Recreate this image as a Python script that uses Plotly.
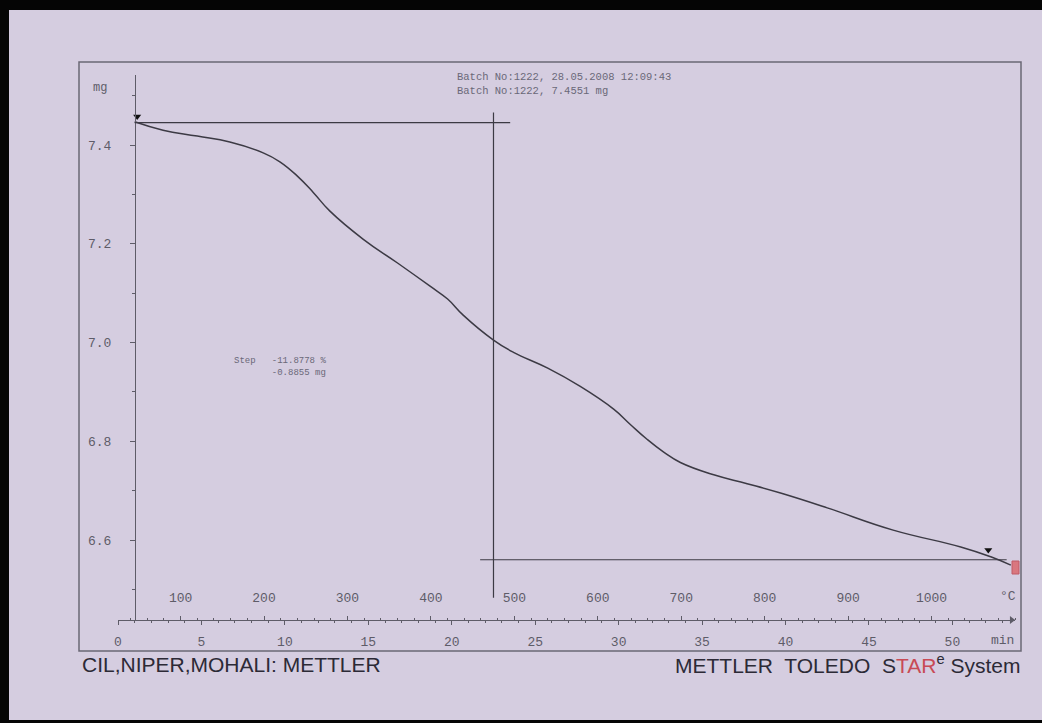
import numpy as np
import plotly.graph_objects as go

# ---- TGA measurement (sample mass vs furnace temperature) ----
temp_c = [45, 79, 120, 159, 199, 219, 240, 259, 279, 319, 360, 399, 420, 439, 475,
          499, 540, 579, 619, 639, 659, 679, 699, 739, 779, 819, 875, 954, 1035,
          1071, 1095]
mass_mg = [7.447, 7.430, 7.418, 7.406, 7.384, 7.366, 7.337, 7.304, 7.266, 7.209,
           7.161, 7.114, 7.088, 7.055, 7.005, 6.980, 6.948, 6.911, 6.865, 6.834,
           6.804, 6.778, 6.757, 6.732, 6.714, 6.695, 6.665, 6.620, 6.586, 6.566,
           6.549]

# heating programme: 25 °C start, 20 K/min
start_temp_c = 25
heating_rate = 20
end_temp_c = 1100

# step evaluation
sample_mass_mg = 7.4551
step_start_level = 7.4455
step_end_level = 6.5600
step_limits_c = [48, 1068]
step_mid_c = 475

temp_ticks = [100, 200, 300, 400, 500, 600, 700, 800, 900, 1000]
time_ticks = [0, 5, 10, 15, 20, 25, 30, 35, 40, 45, 50]
mass_ticks = [6.6, 6.8, 7.0, 7.2, 7.4]

# ---- page geometry (pixels) ----
W, H = 1042, 723
L, R, T, B = 79, 1021, 62, 651           # printed frame
PW, PH = R - L, B - T


def px(xpix):
    return (xpix - L) / PW


def py(ypix):
    return (B - ypix) / PH


ruler_y = 620
ruler_x0, ruler_x1 = 118, 1015
yaxis_x = 135
yaxis_top = 75

ink = "#3c3a44"
grey = "#5e5c68"
bg = "#d5cde0"
mono = "Liberation Mono, DejaVu Sans Mono, monospace"
sans = "Liberation Sans, Arial, sans-serif"

step_mg = step_start_level - step_end_level
step_pct = step_mg / sample_mass_mg * 100
time_max = (end_temp_c - start_temp_c) / heating_rate
y_lo = 7.4 - (ruler_y - 145) / 493.75
y_hi = 7.4 + (145 - yaxis_top) / 493.75

fig = go.Figure()

# mass curve
fig.add_trace(go.Scatter(
    x=temp_c, y=mass_mg, mode="lines",
    line=dict(color=ink, width=1.5, shape="spline", smoothing=1.3),
    hoverinfo="skip", showlegend=False, xaxis="x", yaxis="y"))

# step limit markers on the curve
lim_mass = [float(np.interp(t, temp_c, mass_mg)) + 0.012 for t in step_limits_c]
fig.add_trace(go.Scatter(
    x=step_limits_c, y=lim_mass, mode="markers",
    marker=dict(symbol="triangle-down", size=7, color="#111"),
    hoverinfo="skip", showlegend=False, xaxis="x", yaxis="y", cliponaxis=False))

# arrow head at the end of the temperature ruler
fig.add_trace(go.Scatter(
    x=[end_temp_c - 4], y=[y_lo], mode="markers",
    marker=dict(symbol="triangle-right", size=7, color=grey),
    hoverinfo="skip", showlegend=False, xaxis="x", yaxis="y", cliponaxis=False))

# dummy trace so the time axis is rendered
fig.add_trace(go.Scatter(
    x=[0, time_max], y=[None, None],
    mode="lines", showlegend=False, hoverinfo="skip", xaxis="x2", yaxis="y"))

fig.update_layout(
    width=W, height=H,
    margin=dict(l=L, r=W - R, t=T, b=H - B, pad=0),
    paper_bgcolor=bg, plot_bgcolor="rgba(0,0,0,0)",
    showlegend=False,
    xaxis=dict(
        domain=[px(ruler_x0), px(ruler_x1)], range=[start_temp_c, end_temp_c],
        anchor="free", position=py(ruler_y), side="top",
        showline=True, linecolor=grey, linewidth=1.2,
        ticks="outside", ticklen=4, tickcolor=grey, tickwidth=1,
        tickvals=temp_ticks, ticklabelstandoff=9,
        tickfont=dict(family=mono, size=13, color=grey),
        minor=dict(dtick=20, tick0=0, ticks="outside", ticklen=2, tickcolor=grey),
        showgrid=False, zeroline=False, fixedrange=True),
    xaxis2=dict(
        domain=[px(ruler_x0), px(ruler_x1)], range=[0, time_max],
        overlaying="x", anchor="free", position=py(ruler_y), side="bottom",
        showline=False, ticks="outside", ticklen=4, tickcolor=grey, tickwidth=1,
        tickvals=time_ticks, ticklabelstandoff=5,
        tickfont=dict(family=mono, size=13, color=grey),
        minor=dict(dtick=1, tick0=0, ticks="outside", ticklen=2, tickcolor=grey),
        showgrid=False, zeroline=False, fixedrange=True),
    yaxis=dict(
        domain=[py(ruler_y), py(yaxis_top)], range=[y_lo, y_hi],
        anchor="free", position=px(yaxis_x), side="left",
        showline=True, linecolor=grey, linewidth=1.2,
        ticks="outside", ticklen=5, tickcolor=grey,
        tickvals=mass_ticks, ticktext=[f"{v:.1f}" for v in mass_ticks],
        ticklabelstandoff=16,
        tickfont=dict(family=mono, size=13, color=grey),
        minor=dict(dtick=0.1, tick0=6.5, ticks="outside", ticklen=3, tickcolor=grey),
        showgrid=False, zeroline=False, fixedrange=True),
)

shapes = []
# black edge of the photographed sheet
shapes.append(dict(type="rect", xref="paper", yref="paper",
                   x0=px(0), x1=px(W), y0=py(0), y1=py(10),
                   fillcolor="#050505", line=dict(width=0), layer="above"))
shapes.append(dict(type="rect", xref="paper", yref="paper",
                   x0=px(0), x1=px(9), y0=py(0), y1=py(H),
                   fillcolor="#050505", line=dict(width=0), layer="above"))
shapes.append(dict(type="rect", xref="paper", yref="paper",
                   x0=px(0), x1=px(W), y0=py(720), y1=py(H),
                   fillcolor="#050505", line=dict(width=0), layer="above"))
# printed frame
shapes.append(dict(type="rect", xref="paper", yref="paper",
                   x0=0, x1=1, y0=0, y1=1,
                   line=dict(color="#6a6874", width=1.5)))
# step baselines and midpoint
shapes.append(dict(type="line", xref="x", yref="y",
                   x0=step_limits_c[0] - 3, x1=495,
                   y0=step_start_level, y1=step_start_level,
                   line=dict(color=ink, width=1.2)))
shapes.append(dict(type="line", xref="x", yref="y",
                   x0=459, x1=1090,
                   y0=step_end_level, y1=step_end_level,
                   line=dict(color=ink, width=1.2)))
shapes.append(dict(type="line", xref="x", yref="y",
                   x0=step_mid_c, x1=step_mid_c,
                   y0=6.483, y1=7.466,
                   line=dict(color=ink, width=1.2)))
# curve identification mark at the end of the trace
shapes.append(dict(type="rect", xref="paper", yref="paper",
                   x0=px(1012), x1=px(1019), y0=py(574), y1=py(561),
                   fillcolor="#d9777f", line=dict(color="#c05a66", width=1)))
fig.update_layout(shapes=shapes)


def label(xp, yp, text, font, xanchor="center", align="center"):
    return dict(x=px(xp), y=py(yp), xref="paper", yref="paper", text=text,
                xanchor=xanchor, yanchor="middle", align=align,
                showarrow=False, font=font)


ann = [
    label(100, 88, "mg", dict(family=mono, size=12, color=grey)),
    label(1008, 596, "°C", dict(family=mono, size=13, color=grey)),
    label(1002, 640, "min", dict(family=mono, size=13, color=grey)),
    label(455, 84,
          "Batch No:1222, 28.05.2008 12:09:43<br>Batch No:1222, "
          f"{sample_mass_mg:.4f} mg",
          dict(family=mono, size=10.5, color="#6a6878"), "left", "left"),
    label(232, 367,
          f"Step   -{step_pct:.4f} %<br>       -{step_mg:.4f} mg",
          dict(family=mono, size=9, color="#6a6878"), "left", "left"),
    label(80, 664, "CIL,NIPER,MOHALI: METTLER",
          dict(family=sans, size=21, color="#2c2a36"), "left"),
    label(1022, 664,
          "METTLER  TOLEDO  S<span style='color:#c84a55'>TAR</span>"
          "<sup>e</sup> System",
          dict(family=sans, size=21, color="#2c2a36"), "right"),
]
fig.update_layout(annotations=ann)

fig.write_html("out.html")
